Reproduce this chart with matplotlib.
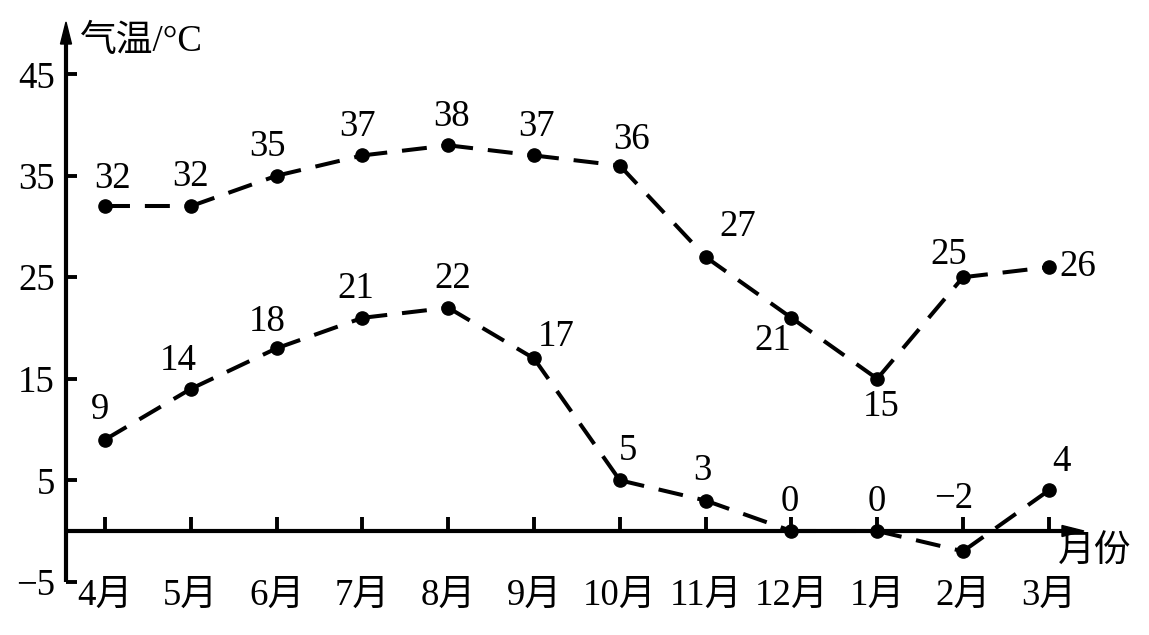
import matplotlib
matplotlib.use("Agg")
import matplotlib.pyplot as plt
from matplotlib.patches import Polygon

plt.rcParams['font.family'] = ['Liberation Serif', 'Noto Sans CJK SC']
plt.rcParams['axes.unicode_minus'] = True

months = ["4月", "5月", "6月", "7月", "8月", "9月", "10月", "11月", "12月", "1月", "2月", "3月"]
high = [32, 32, 35, 37, 38, 37, 36, 27, 21, 15, 25, 26]
low = [9, 14, 18, 21, 22, 17, 5, 3, 0, 0, -2, 4]
yticks = [-5, 5, 15, 25, 35, 45]

# label offsets in pixels (dx, dy) from each point
high_off = [(8, 27), (0, 29), (-9, 29), (-5, 29), (3, 29), (2, 29),
            (12, 26), (32, 30), (-19, -23), (4, -28), (-14, 23), (29, 0)]
low_off = [(-5, 30), (-13, 28), (-9, 27), (-7, 29), (5, 29), (22, 22),
           (8, 29), (-3, 30), (-2, 29), (0, 29), (-9, 53), (13, 29)]

W, H = 1149, 635
x0, dx = 105, 85.8      # pixel of first month, spacing
y0, dy = 531, 10.15     # pixel of 0 degrees, pixels per degree
FS = 26.5

fig = plt.figure(figsize=(W / 100, H / 100), dpi=100)
ax = fig.add_axes([0, 0, 1, 1])
ax.set_xlim(-x0 / dx, (W - x0) / dx)
ax.set_ylim((y0 - H) / dy, y0 / dy)

yaxis_x = (66 - x0) / dx
xaxis_end = (1084 - x0) / dx
yaxis_top = (y0 - 22) / dy

for s in ["top", "right"]:
    ax.spines[s].set_visible(False)
ax.spines["left"].set_position(("data", yaxis_x))
ax.spines["bottom"].set_position(("data", 0))
ax.spines["left"].set_bounds(-5, yaxis_top - 10 / dy)
ax.spines["bottom"].set_bounds(yaxis_x, xaxis_end - 10 / dx)
for s in ["left", "bottom"]:
    ax.spines[s].set_linewidth(3)
    ax.spines[s].set_capstyle("butt")

# arrow heads: 22 px long, 11 px wide
alen, awid = 22, 5.5
ax.add_patch(Polygon([(yaxis_x, yaxis_top),
                      (yaxis_x - awid / dx, yaxis_top - alen / dy),
                      (yaxis_x + awid / dx, yaxis_top - alen / dy)],
                     closed=True, color="black", clip_on=False, zorder=5))
ax.add_patch(Polygon([(xaxis_end, 0),
                      (xaxis_end - alen / dx, awid / dy),
                      (xaxis_end - alen / dx, -awid / dy)],
                     closed=True, color="black", clip_on=False, zorder=5))

x = list(range(len(months)))
ax.set_xticks(x)
ax.set_xticklabels(months)
ax.set_yticks(yticks)
ax.set_yticklabels([str(v).replace("-", "\u2212") for v in yticks])
ax.tick_params(axis="x", direction="in", length=10, width=2.8, pad=34, labelsize=FS)
ax.tick_params(axis="y", direction="in", length=8, width=2.8, pad=8, labelsize=FS)

# each segment dashed on its own so the pattern restarts at every point
for vals in (high, low):
    for i in range(len(vals) - 1):
        ax.plot(x[i:i + 2], vals[i:i + 2], color="black", lw=2.9, dashes=(6.2, 3.7),
                dash_capstyle="butt", clip_on=False, zorder=3)
    ax.plot(x, vals, "o", color="black", markersize=9.5, clip_on=False, zorder=4)

for vals, offs in [(high, high_off), (low, low_off)]:
    for i, (v, (ox, oy)) in enumerate(zip(vals, offs)):
        ax.annotate(str(v).replace("-", "\u2212"), (i, v), xytext=(ox * 0.72, oy * 0.72),
                    textcoords="offset points", ha="center", va="center", fontsize=FS)

ax.text((80 - x0) / dx, (y0 - 42) / dy, "气温/°C", fontsize=FS, ha="left", va="center")
ax.text((1058 - x0) / dx, (y0 - 553) / dy, "月份", fontsize=FS, ha="left", va="center")

fig.savefig("out.png", dpi=100)
